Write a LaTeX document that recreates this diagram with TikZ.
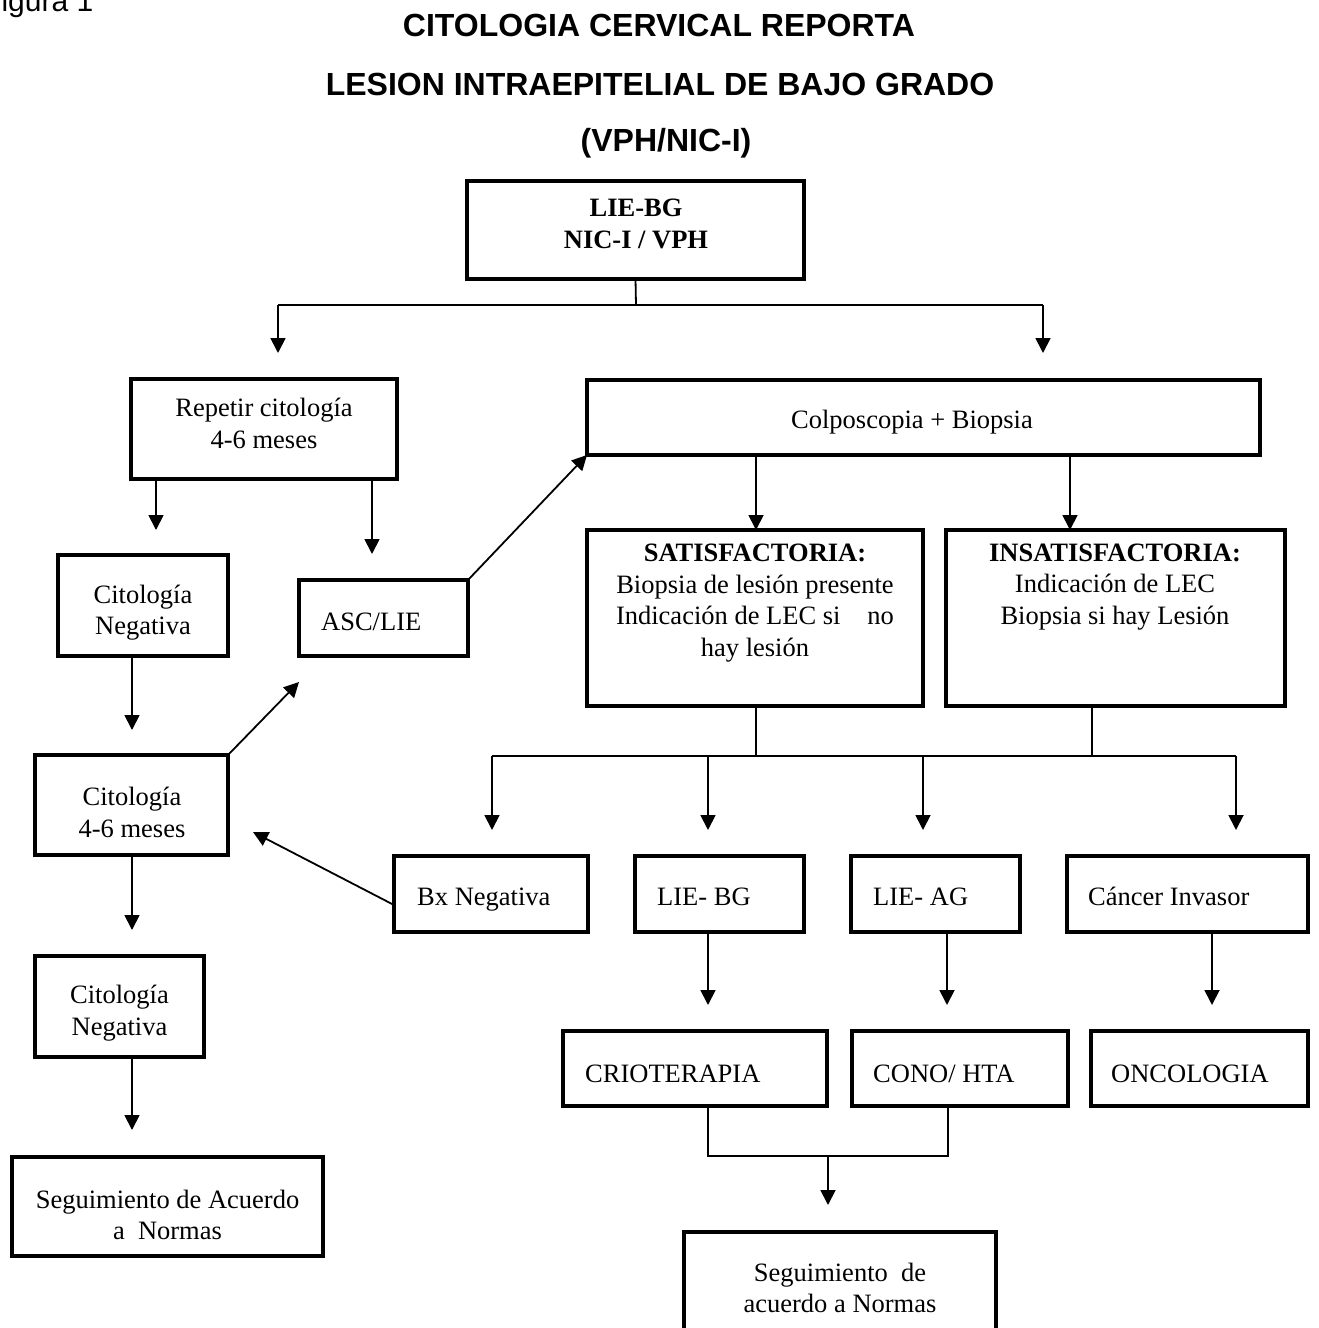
\documentclass[tikz,border=0pt]{standalone}
\usepackage{fontspec}
\setmainfont{Liberation Serif}
\newfontfamily\sansf{Liberation Sans}
\usetikzlibrary{arrows.meta}
\newcommand\mybox[5]{\node[box, minimum width={#4-#2}, minimum height={#5-#3}] (#1) at ({(#2+#4)/2},{(#3+#5)/2}) {};}
\begin{document}
\begin{tikzpicture}[x=1pt,y=-1pt,
  box/.style={draw, line width=3.4pt, inner sep=0pt, outer sep=0pt},
  txt/.style={inner sep=0pt, align=center, font=\fontsize{26.5}{31.5}\selectfont},
  txtb/.style={inner sep=0pt, align=center, font=\bfseries\fontsize{26.5}{31.5}\selectfont},
  txtl/.style={inner sep=0pt, anchor=base west, font=\fontsize{26.5}{31.5}\selectfont},
  ttl/.style={inner sep=0pt, font=\sansf\bfseries\fontsize{32}{37}\selectfont},
  con/.style={line width=1.8pt},
  arr/.style={line width=1.8pt, -{Triangle[length=15pt,width=15pt]}}
]
\useasboundingbox (0,0) rectangle (1318,1328);
\clip (0,0) rectangle (1318,1328);
\fill[white] (0,0) rectangle (1318,1328);

% caption and title
\node[anchor=base west, inner sep=0pt, font=\sansf\fontsize{30}{36}\selectfont] (fig) at (-17,11) {Figura 1};
\node[ttl] (t1) at (659,25) {CITOLOGIA CERVICAL REPORTA};
\node[ttl] (t2) at (660,84) {LESION INTRAEPITELIAL DE BAJO GRADO};
\node[ttl] (t3) at (666,143) {(VPH/NIC-I)};

% boxes
\mybox{lie}{467}{181}{804}{279}
\mybox{rep}{131}{379}{397}{479}
\mybox{colp}{587}{380}{1260}{455}
\mybox{cna}{58}{555}{228}{656}
\mybox{asc}{299}{580}{468}{656}
\mybox{sat}{587}{530}{923}{706}
\mybox{ins}{946}{530}{1285}{706}
\mybox{cmes}{35}{755}{228}{855}
\mybox{bx}{394}{856}{588}{932}
\mybox{lbg}{635}{856}{804}{932}
\mybox{lag}{851}{856}{1020}{932}
\mybox{cai}{1067}{856}{1308}{932}
\mybox{cnb}{35}{956}{204}{1057}
\mybox{crio}{563}{1031}{827}{1106}
\mybox{cono}{852}{1031}{1068}{1106}
\mybox{onco}{1091}{1031}{1308}{1106}
\mybox{sega}{12}{1157}{323}{1256}
\mybox{segb}{684}{1232}{996}{1372}

% texts
\node[txtb] (tlie) at (636,224) {LIE-BG\\NIC-I / VPH};
\node[txt] (trep) at (264,423.5) {Repetir citología\\4-6 meses};
\node[txt] (tcolp) at (912,422) {Colposcopia + Biopsia};
\node[txt] (tcna) at (143,612.5) {Citología\\Negativa};
\node[txtl] (tasc) at (321,630) {ASC/LIE};
\node[txt] (tsat) at (755,603) {{\bfseries SATISFACTORIA:}\\Biopsia de lesión presente\\Indicación de LEC si\hspace{27pt}no\\hay lesión};
\node[txt] (tins) at (1115,587) {{\bfseries INSATISFACTORIA:}\\Indicación de LEC\\Biopsia si hay Lesión};
\node[txt] (tcmes) at (132,812.5) {Citología\\4-6 meses};
\node[txtl] (tbx) at (417,905) {Bx Negativa};
\node[txtl] (tlbg) at (657,905) {LIE- BG};
\node[txtl] (tlag) at (873,905) {LIE- AG};
\node[txtl] (tcai) at (1088,905) {Cáncer Invasor};
\node[txt] (tcnb) at (119.5,1013) {Citología\\Negativa};
\node[txtl] (tcrio) at (585,1082) {CRIOTERAPIA};
\node[txtl] (tcono) at (873,1082) {CONO/ HTA};
\node[txtl] (tonco) at (1111,1082) {ONCOLOGIA};
\node[txt] (tsega) at (167.5,1215) {Seguimiento de Acuerdo\\a\ \ Normas};
\node[txt] (tsegb) at (840,1288) {Seguimiento\ \ de\\acuerdo a Normas};

% junction / free-end coordinates
\coordinate (j0) at (636,305);
\coordinate (jl) at (278,305);
\coordinate (jr) at (1043,305);
\coordinate (al) at (278,353);
\coordinate (ar) at (1043,353);
\coordinate (r1) at (156,530);
\coordinate (r2) at (372,554);
\coordinate (n1) at (132,730);
\coordinate (m1) at (299,682);
\coordinate (m2) at (132,930);
\coordinate (n2) at (132,1130);
\coordinate (bxe) at (253,832);
\coordinate (h1) at (756,756);
\coordinate (h2) at (1092,756);
\coordinate (hl) at (492,756);
\coordinate (hr) at (1236,756);
\coordinate (hb) at (708,756);
\coordinate (hc) at (923,756);
\coordinate (d1) at (492,830);
\coordinate (d2) at (708,830);
\coordinate (d3) at (923,830);
\coordinate (d4) at (1236,830);
\coordinate (e1) at (708,1005);
\coordinate (e2) at (947,1005);
\coordinate (e3) at (1212,1005);
\coordinate (f1) at (708,1156);
\coordinate (f2) at (948,1156);
\coordinate (fm) at (828,1156);
\coordinate (fe) at (828,1205);

% connectors
\draw[con] (lie.south) -- (j0);
\draw[con] (jl) -- (jr);
\draw[arr] (jl) -- (al);
\draw[arr] (jr) -- (ar);
\draw[arr] (156,0 |- rep.south) -- (r1);
\draw[arr] (372,0 |- rep.south) -- (r2);
\draw[arr] (asc.north east) -- (colp.south west);
\draw[arr] (756,0 |- colp.south) -- (756,0 |- sat.north);
\draw[arr] (1070,0 |- colp.south) -- (1070,0 |- ins.north);
\draw[arr] (132,0 |- cna.south) -- (n1);
\draw[arr] (cmes.north east) -- (m1);
\draw[arr] (132,0 |- cmes.south) -- (m2);
\draw[arr] (132,0 |- cnb.south) -- (n2);
\draw[arr] ([yshift=-11pt]bx.west) -- (bxe);
\draw[con] (756,0 |- sat.south) -- (h1);
\draw[con] (1092,0 |- ins.south) -- (h2);
\draw[con] (hl) -- (hr);
\draw[arr] (hl) -- (d1);
\draw[arr] (hb) -- (d2);
\draw[arr] (hc) -- (d3);
\draw[arr] (hr) -- (d4);
\draw[arr] (708,0 |- lbg.south) -- (e1);
\draw[arr] (947,0 |- lag.south) -- (e2);
\draw[arr] (1212,0 |- cai.south) -- (e3);
\draw[con] (708,0 |- crio.south) -- (f1) -- (f2) -- (948,0 |- cono.south);
\draw[arr] (fm) -- (fe);
\end{tikzpicture}
\end{document}
